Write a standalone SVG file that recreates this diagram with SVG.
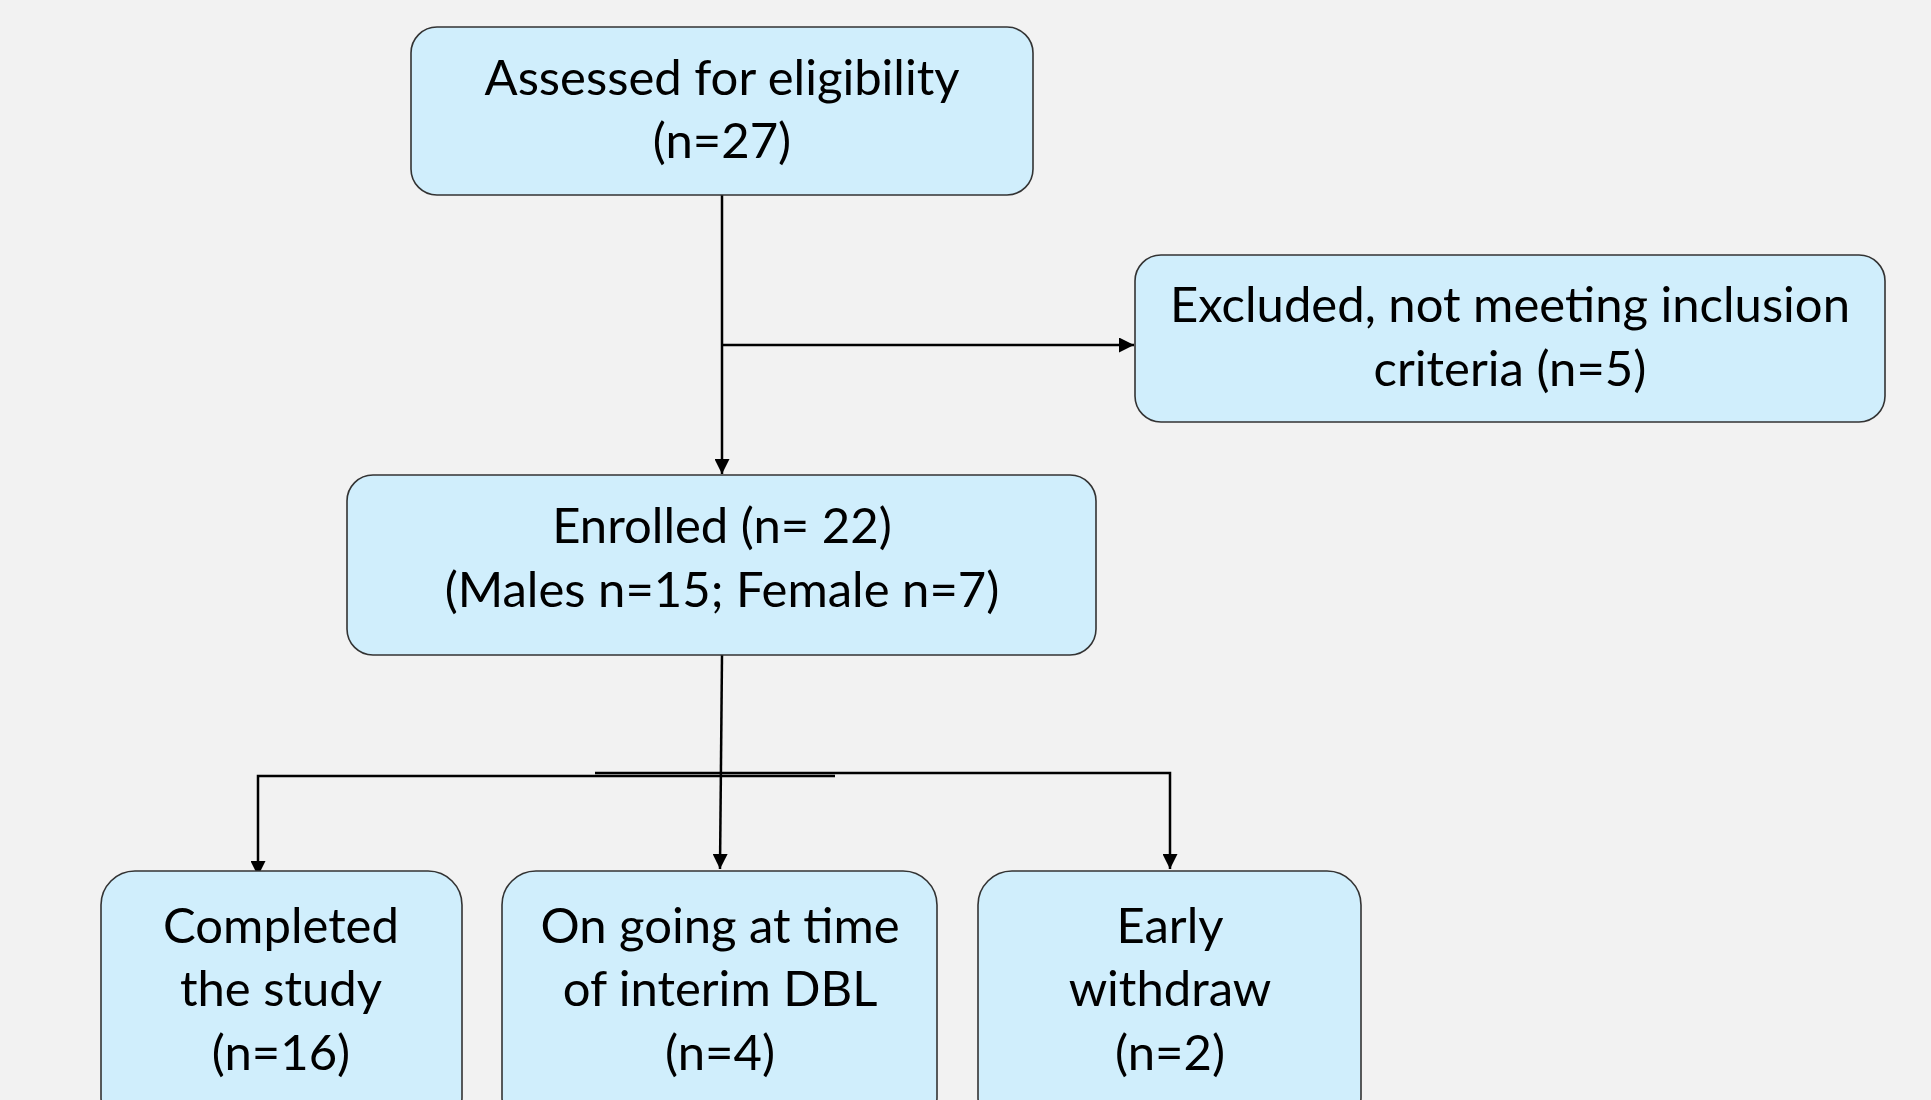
<svg xmlns="http://www.w3.org/2000/svg" width="1931" height="1100" viewBox="0 0 1931 1100">
<style>
.box{fill:#D0EEFC;stroke:#333;stroke-width:1.6}
.t{font-family:Lato,"Open Sans","Liberation Sans",sans-serif;font-size:49px;fill:#000;text-anchor:middle}
.c{fill:none;stroke:#000;stroke-width:2.5}
</style>
<defs>
<marker id="ah" viewBox="0 0 10 10" refX="10" refY="5" markerWidth="6" markerHeight="6" markerUnits="strokeWidth" orient="auto">
<path d="M0,0 L10,5 L0,10 z" fill="#000"/>
</marker>
</defs>
<rect width="1931" height="1100" fill="#F2F2F2"/>
<g id="connectors">
<line class="c" x1="722" y1="195" x2="722" y2="474" marker-end="url(#ah)"/>
<line class="c" x1="722" y1="345" x2="1134" y2="345" marker-end="url(#ah)"/>
<line class="c" x1="722" y1="655" x2="720" y2="869" marker-end="url(#ah)"/>
<polyline class="c" points="835,776 258,776 258,876" marker-end="url(#ah)"/>
<polyline class="c" points="595,773 1170,773 1170,869" marker-end="url(#ah)"/>
</g>
<g id="assessed">
<rect class="box" x="411" y="27" width="622" height="168" rx="26"/>
<text class="t" x="722" y="95">Assessed for eligibility</text>
<text class="t" x="722" y="158">(n=27)</text>
</g>
<g id="excluded">
<rect class="box" x="1135" y="255" width="750" height="167" rx="26"/>
<text class="t" x="1510" y="322">Excluded, not meeting inclusion</text>
<text class="t" x="1510" y="386">criteria (n=5)</text>
</g>
<g id="enrolled">
<rect class="box" x="347" y="475" width="749" height="180" rx="26"/>
<text class="t" x="722" y="543">Enrolled (n= 22)</text>
<text class="t" x="722" y="607">(Males n=15; Female n=7)</text>
</g>
<g id="completed">
<rect class="box" x="101" y="871" width="361" height="260" rx="34"/>
<text class="t" x="281" y="943">Completed</text>
<text class="t" x="281" y="1006">the study</text>
<text class="t" x="281" y="1070">(n=16)</text>
</g>
<g id="ongoing">
<rect class="box" x="502" y="871" width="435" height="260" rx="34"/>
<text class="t" x="720" y="943">On going at time</text>
<text class="t" x="720" y="1006">of interim DBL</text>
<text class="t" x="720" y="1070">(n=4)</text>
</g>
<g id="early">
<rect class="box" x="978" y="871" width="383" height="260" rx="34"/>
<text class="t" x="1170" y="943">Early</text>
<text class="t" x="1170" y="1006">withdraw</text>
<text class="t" x="1170" y="1070">(n=2)</text>
</g>
</svg>
